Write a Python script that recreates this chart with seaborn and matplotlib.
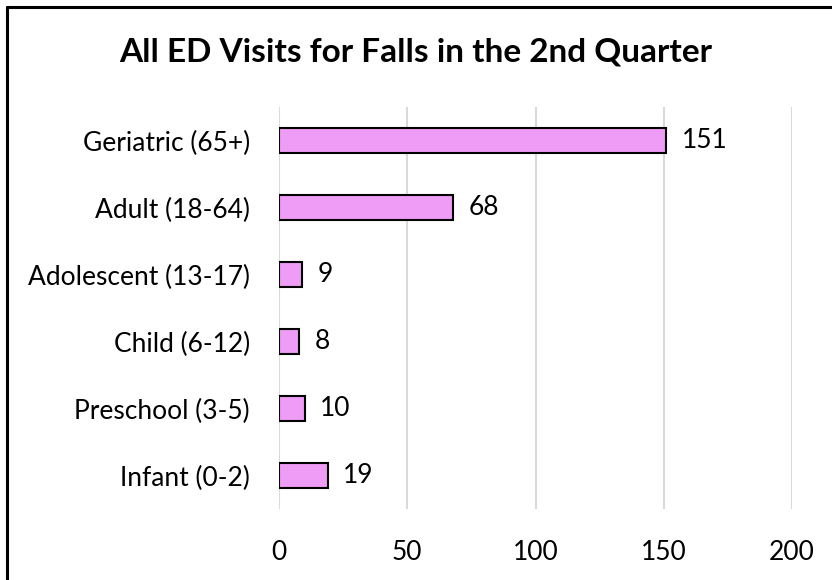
import matplotlib
matplotlib.use("Agg")
import matplotlib.pyplot as plt
import seaborn as sns
import pandas as pd
from matplotlib.lines import Line2D

# ================================
# DATA
# ================================
groups = ["Geriatric (65+)", "Adult (18-64)", "Adolescent (13-17)",
          "Child (6-12)", "Preschool (3-5)", "Infant (0-2)"]
visits = [151, 68, 9, 8, 10, 19]
xticks = [0, 50, 100, 150, 200]

df = pd.DataFrame({"group": groups, "visits": visits})

# ================================
# STYLE
# ================================
sns.set_theme(style="white")
plt.rcParams["font.family"] = ["Lato", "DejaVu Sans"]
plt.rcParams["text.color"] = "black"
plt.rcParams["xtick.labelcolor"] = "black"
plt.rcParams["ytick.labelcolor"] = "black"

fig = plt.figure(figsize=(8.32, 5.8), dpi=100)
ax = fig.add_axes([0.3353, 0.1224, 0.6167, 0.6931])

sns.barplot(data=df, x="visits", y="group", orient="h", color="#EE9CF5",
            saturation=1, width=0.36, edgecolor="black", linewidth=1.5, ax=ax)

ax.set_xlim(0, 200)
ax.set_xticks(xticks)
ax.xaxis.grid(True, color="#D9D9D9", linewidth=1.5)
ax.set_axisbelow(True)
for s in ax.spines.values():
    s.set_visible(False)
ax.set_xlabel("")
ax.set_ylabel("")
ax.tick_params(axis="y", length=0, pad=21, labelsize=19)
ax.tick_params(axis="x", length=0, pad=22, labelsize=19)

ax.bar_label(ax.containers[0], padding=11, fontsize=19, color="black")

fig.text(0.5, 1 - 52 / 580, "All ED Visits for Falls in the 2nd Quarter",
         ha="center", va="center", fontsize=24, fontweight="bold", color="black")

# chart border (left and top only, rest cropped)
fig.add_artist(Line2D([7 / 832, 7 / 832], [0, 1 - 7 / 580], transform=fig.transFigure,
                      color="black", linewidth=2.2))
fig.add_artist(Line2D([7 / 832, 1], [1 - 7 / 580, 1 - 7 / 580], transform=fig.transFigure,
                      color="black", linewidth=2.2))

fig.savefig("out.png", dpi=100)
